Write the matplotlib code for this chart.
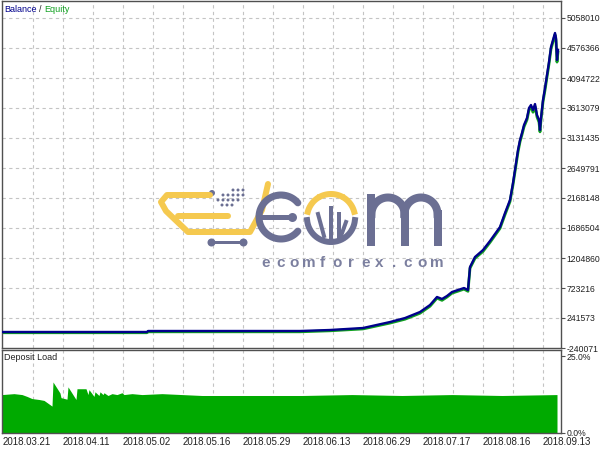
import numpy as np
import matplotlib
matplotlib.use("Agg")
from matplotlib import pyplot as plt

plt.rcParams["font.family"] = ["Liberation Sans", "DejaVu Sans"]

NAVY = "#00008c"
EQ_GREEN = "#10a020"
LOAD_GREEN = "#00aa00"
GRID = "#c4c4c4"
FRAME = "#505050"
LOGO_GREY = "#6b6f93"
LOGO_YELLOW = "#f5c94f"

# x axis is the tester's bar index (MT5 charts are not linear in time)
bars = [0, 145, 146, 298, 328, 361, 388, 403, 418, 428, 435, 440, 445, 450,
        456, 462, 466, 468, 473, 481, 488, 498, 503, 508, 511, 513, 516, 518,
        520, 522, 525, 527, 529, 531, 533, 535, 537, 538, 539, 541, 543, 545,
        547, 549, 551, 553, 554, 555, 556]
balance = [17000, 17000, 33000, 33000, 49000, 81000, 177000, 241000, 338000,
           450000, 579000, 547000, 595000, 659000, 691000, 723000, 691000,
           1060000, 1221000, 1333000, 1478000, 1703000, 1927000, 2136000,
           2409000, 2618000, 2939000, 3099000, 3212000, 3340000, 3452000,
           3613000, 3661000, 3581000, 3677000, 3500000, 3420000, 3260000,
           3452000, 3741000, 3934000, 4143000, 4351000, 4592000, 4705000,
           4817000, 4737000, 4384000, 4544000]
equity = [5000, 5000, 20000, 20000, 36000, 66000, 160000, 222000, 318000,
          430000, 560000, 525000, 578000, 640000, 672000, 705000, 670000,
          1040000, 1200000, 1310000, 1455000, 1680000, 1900000, 2110000,
          2380000, 2590000, 2905000, 3070000, 3185000, 3310000, 3425000,
          3580000, 3630000, 3545000, 3640000, 3470000, 3385000, 3230000,
          3420000, 3710000, 3900000, 4110000, 4320000, 4560000, 4675000,
          4790000, 4700000, 4350000, 4510000]

load_bars = [0, 12, 20, 25, 30, 37, 42, 50, 51, 58, 59, 65, 66, 74, 75, 84, 86,
             87, 92, 93, 97, 98, 101, 102, 106, 110, 115, 120, 122, 130, 140,
             160, 180, 200, 250, 300, 350, 400, 450, 500, 555]
load = [12.5, 12.8, 12.5, 11.9, 11.2, 10.9, 10.6, 8.75, 16.6, 13.0, 11.5, 11.0,
        15.0, 10.9, 14.4, 14.4, 12.5, 14.1, 11.9, 13.4, 12.2, 13.4, 12.5, 13.1,
        12.2, 12.8, 12.5, 13.1, 12.5, 12.8, 12.5, 12.8, 12.5, 12.2, 12.2, 12.2,
        12.5, 12.2, 12.5, 12.2, 12.5]

y_ticks = [-240071, 241573, 723216, 1204860, 1686504, 2168148, 2649791,
           3131435, 3613079, 4094722, 4576366, 5058010]
date_pos = [1, 61, 121, 181, 241, 301, 361, 421, 481, 541]
date_labels = ["2018.03.21", "2018.04.11", "2018.05.02", "2018.05.16",
               "2018.05.29", "2018.06.13", "2018.06.29", "2018.07.17",
               "2018.08.16", "2018.09.13"]
grid_pos = list(range(31, 559, 30))

FS = 7
FS_Y = 6.2
FS_TXT = 6.5

fig = plt.figure(figsize=(6, 4.5), dpi=100)
ax = fig.add_axes([2 / 600, 1 - 348 / 450, 559 / 600, 347 / 450])
ax2 = fig.add_axes([2 / 600, 1 - 433 / 450, 559 / 600, 83 / 450])

for a in (ax, ax2):
    a.set_xlim(0, 559)
    for s in a.spines.values():
        s.set_color(FRAME)
        s.set_linewidth(1.0)
    for g in grid_pos:
        a.axvline(g, color=GRID, lw=0.8, ls=(0, (3, 3)), zorder=0)
    a.yaxis.tick_right()
    a.tick_params(axis="y", direction="out", length=3, width=0.8,
                  colors=FRAME, labelcolor="#202020", labelsize=FS_Y, pad=1)

# balance / equity
ax.set_ylim(-240071, 5330941)
for t in y_ticks[1:]:
    ax.axhline(t, color=GRID, lw=0.8, ls=(0, (3, 3)), zorder=0)
ax.plot(bars, equity, color=EQ_GREEN, lw=2.0, zorder=2)
ax.plot(bars, balance, color=NAVY, lw=1.7, zorder=3)
ax.set_yticks(y_ticks)
ax.set_yticklabels([str(v) for v in y_ticks])
ax.set_xticks([])
ax.annotate("Balance", (0, 1), xycoords="axes fraction", xytext=(2, -8),
            textcoords="offset pixels", color=NAVY, fontsize=FS_TXT, va="center")
ax.annotate("/", (0, 1), xycoords="axes fraction", xytext=(37, -8),
            textcoords="offset pixels", color="#202020", fontsize=FS_TXT, va="center")
ax.annotate("Equity", (0, 1), xycoords="axes fraction", xytext=(42, -8),
            textcoords="offset pixels", color=EQ_GREEN, fontsize=FS_TXT, va="center")

# deposit load
ax2.set_ylim(0, 27)
ax2.fill_between(load_bars, load, 0, color=LOAD_GREEN, lw=0, zorder=2)
ax2.set_yticks([0, 25])
ax2.set_yticklabels(["0.0%", "25.0%"])
ax2.set_xticks(date_pos)
ax2.set_xticklabels(date_labels, ha="left")
ax2.tick_params(axis="x", length=0, labelsize=FS, labelcolor="#202020", pad=3)
ax2.annotate("Deposit Load", (0, 1), xycoords="axes fraction", xytext=(2, -7),
             textcoords="offset pixels", color="#202020", fontsize=FS_TXT, va="center")

# watermark logo, drawn in figure pixels
lg = fig.add_axes([0, 0, 1, 1], zorder=5)
lg.set_xlim(0, 600)
lg.set_ylim(450, 0)
lg.axis("off")
lg.patch.set_alpha(0)
px = 0.72  # points per pixel

cart_x = [210, 167, 161, 166, 188, 250, 262, 268]
cart_y = [195, 195, 202, 211, 232, 232, 210, 184]
lg.plot(cart_x, cart_y, color=LOGO_YELLOW, lw=6 * px, solid_capstyle="round",
        solid_joinstyle="round")
lg.plot([178, 228], [216, 216], color=LOGO_YELLOW, lw=6 * px, solid_capstyle="round")
lg.plot([211, 243], [242, 242], color=LOGO_GREY, lw=3 * px)
lg.scatter([211, 243], [242, 242], s=(8 * px) ** 2, color=LOGO_GREY, lw=0)
dots_x = [212, 233, 238, 243, 223, 228, 233, 238, 243, 218, 223, 228, 233, 238, 222, 227, 232]
dots_y = [193, 190, 190, 190, 195, 195, 195, 195, 195, 200, 200, 200, 200, 200, 205, 205, 205]
lg.scatter(dots_x, dots_y, s=[(6 * px) ** 2] + [(3 * px) ** 2] * 16, color=LOGO_GREY, lw=0)

t = np.radians(np.linspace(40, 320, 60))
lg.plot(281 + 22 * np.cos(t), 217 - 22 * np.sin(t), color=LOGO_GREY, lw=7 * px,
        solid_capstyle="round")
lg.plot([264, 287], [217, 217], color=LOGO_GREY, lw=5 * px)
lg.scatter([292], [217], s=(9 * px) ** 2, color=LOGO_GREY, lw=0)

for a0, a1, c in [(15, 55, LOGO_YELLOW), (65, 115, LOGO_YELLOW), (125, 165, LOGO_YELLOW),
                  (185, 355, LOGO_GREY)]:
    t = np.radians(np.linspace(a0, a1, 30))
    lg.plot(331 + 24 * np.cos(t), 218 - 24 * np.sin(t), color=c, lw=6 * px)
lg.plot([318, 324], [214, 236], color=LOGO_GREY, lw=4 * px)
lg.plot([331, 331], [208, 238], color=LOGO_GREY, lw=4 * px)
lg.plot([339, 339], [214, 238], color=LOGO_GREY, lw=4 * px)
lg.plot([346, 341], [222, 236], color=LOGO_GREY, lw=4 * px)

lg.plot([371, 371], [198, 242], color=LOGO_GREY, lw=8 * px)
for cx, x_end in [(388, 404), (421, 437)]:
    t = np.radians(np.linspace(180, 0, 40))
    lg.plot(cx + 16.5 * np.cos(t), 214 - 16.5 * np.sin(t), color=LOGO_GREY, lw=8 * px)
    lg.plot([x_end + 0.5, x_end + 0.5], [214, 242], color=LOGO_GREY, lw=8 * px)

for i, ch in enumerate("ecomforex.com"):
    lg.text(266 + i * 14.2, 263, ch, color="#7b7f9f", fontsize=11,
            fontweight="bold", ha="center", va="center")

fig.savefig("out.png", dpi=100)
